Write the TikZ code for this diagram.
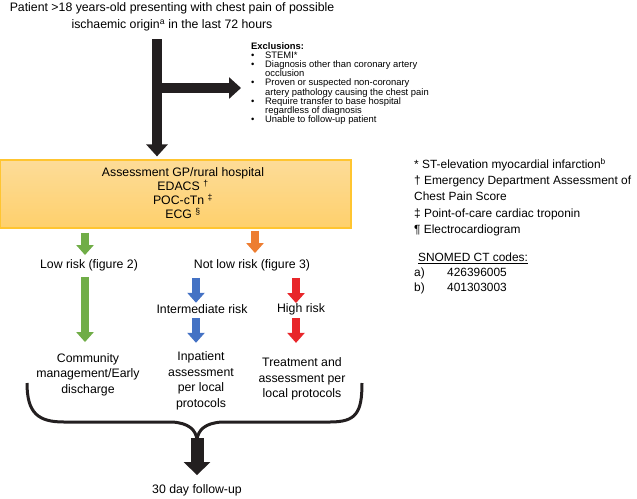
\documentclass[tikz,border=0pt]{standalone}
\usepackage{fontspec}
\setmainfont{Liberation Sans}
\usetikzlibrary{positioning,arrows.meta,calc}

\definecolor{boxtop}{HTML}{FDDC98}
\definecolor{boxbottom}{HTML}{FED06C}
\definecolor{boxline}{HTML}{FFC530}
\definecolor{arrowblack}{HTML}{231F20}
\definecolor{riskgreen}{HTML}{70AD47}
\definecolor{riskorange}{HTML}{ED7D31}
\definecolor{riskblue}{HTML}{4472C4}
\definecolor{riskred}{HTML}{E8262A}

\begin{document}
\begin{tikzpicture}[x=1pt,y=-1pt]
    \tikzstyle{txt} = [font=\fontsize{12.3}{15.5}\selectfont, align=center, inner sep=0pt]
    \tikzstyle{smalltxt} = [font=\fontsize{9.4}{9.2}\selectfont, align=left, inner sep=0pt]
    \tikzstyle{assessbox} = [rectangle, minimum width=351pt, minimum height=68pt, draw=boxline, line width=1.2pt, top color=boxtop, bottom color=boxbottom]
    \tikzstyle{blackarrow} = [draw=arrowblack, line width=10pt, -{Triangle[width=21pt,length=12pt]}]
    \tikzstyle{bigblackarrow} = [draw=arrowblack, line width=13pt, -{Triangle[width=26pt,length=13pt]}]
    \tikzstyle{colarrow} = [line width=8pt, -{Triangle[width=17pt,length=10pt]}]
    \useasboundingbox (0,0) rectangle (637,498);

    \node (patient) [txt, font=\fontsize{12.3}{17}\selectfont] at (172,17) {Patient >18 years-old presenting with chest pain of possible\\ ischaemic origin\textsuperscript{a} in the last 72 hours};
    \node (excl) [smalltxt, anchor=north west] at (251,42) {\textbf{Exclusions:}\\
        \makebox[14pt][l]{\textbullet}STEMI*\\
        \makebox[14pt][l]{\textbullet}Diagnosis other than coronary artery\\
        \hspace*{14pt}occlusion\\
        \makebox[14pt][l]{\textbullet}Proven or suspected non-coronary\\
        \hspace*{14pt}artery pathology causing the chest pain\\
        \makebox[14pt][l]{\textbullet}Require transfer to base hospital\\
        \hspace*{14pt}regardless of diagnosis\\
        \makebox[14pt][l]{\textbullet}Unable to follow-up patient};
    \node (assess) [assessbox] at (175.5,194) {};
    \node (assesstext) [txt, font=\fontsize{12.3}{14}\selectfont] at (183,193) {Assessment GP/rural hospital\\ EDACS \textsuperscript{†}\\ POC-cTn \textsuperscript{‡}\\ ECG \textsuperscript{§}};

    \node (low) [txt] at (89,265) {Low risk (figure 2)};
    \node (notlow) [txt] at (252,265) {Not low risk (figure 3)};
    \node (inter) [txt] at (202,309) {Intermediate risk};
    \node (high) [txt] at (301,309) {High risk};
    \node (comm) [txt] at (88,374.5) {Community\\ management/Early\\ discharge};
    \node (inpat) [txt] at (201,381) {Inpatient\\ assessment\\ per local\\ protocols};
    \node (treat) [txt] at (302,379) {Treatment and\\ assessment per\\ local protocols};
    \node (follow) [txt] at (197,490) {30 day follow-up};

    \node (notes) [txt, align=left, font=\fontsize{11.9}{16.2}\selectfont, anchor=north west] at (414,158) {* ST-elevation myocardial infarction\textsuperscript{b}\\ † Emergency Department Assessment of\\ Chest Pain Score\\ ‡ Point-of-care cardiac troponin\\ ¶ Electrocardiogram};
    \node (snomed) [txt, align=left, font=\fontsize{11.9}{15}\selectfont, anchor=north west] at (414,253) {\hspace*{4pt}\underline{SNOMED CT codes:}\\ \makebox[33pt][l]{a)}426396005\\ \makebox[33pt][l]{b)}401303003};

    % columns of the arrows
    \coordinate (split) at (157,88);
    \coordinate (gcol) at (85,0);
    \coordinate (ocol) at (255,0);
    \coordinate (bcol) at (196,0);
    \coordinate (rcol) at (296,0);
    \coordinate (bracetip) at (197,440);

    \draw [blackarrow] ([yshift=-8pt]patient.south -| split) -- ([yshift=3pt]assess.north -| split);
    \draw [blackarrow] (split) -- ($(excl.west |- split)+(-10,0)$);

    \draw [colarrow, draw=riskgreen] ([yshift=-4pt]assess.south -| gcol) -- ([yshift=4pt]low.north -| gcol);
    \draw [colarrow, draw=riskorange] ([yshift=-2pt]assess.south -| ocol) -- ([yshift=6pt]notlow.north -| ocol);
    \draw [colarrow, draw=riskgreen] ([yshift=-6pt]low.south -| gcol) -- ([yshift=11pt]comm.north -| gcol);
    \draw [colarrow, draw=riskblue] ([yshift=-7pt]notlow.south -| bcol) -- ([yshift=1.5pt]inter.north -| bcol);
    \draw [colarrow, draw=riskblue] ([yshift=-4.5pt]inter.south -| bcol) -- ([yshift=9pt]inpat.north -| bcol);
    \draw [colarrow, draw=riskred] ([yshift=-7pt]notlow.south -| rcol) -- (high.north -| rcol);
    \draw [colarrow, draw=riskred] ([yshift=-3.3pt]high.south -| rcol) -- ([yshift=14.7pt]treat.north -| rcol);

    % brace round the outcomes
    \draw [draw=arrowblack, line width=3pt] (27,383) .. controls (27,413) and (38,422) .. (64,422) -- (172,422) .. controls (189,423) and (196,430) .. (bracetip) .. controls (198,430) and (205,423) .. (222,422) -- (330,422) .. controls (356,422) and (362,413) .. (362,383);
    \draw [bigblackarrow] ([yshift=2pt]bracetip) -- ([yshift=9pt]follow.north -| bracetip);
\end{tikzpicture}
\end{document}
